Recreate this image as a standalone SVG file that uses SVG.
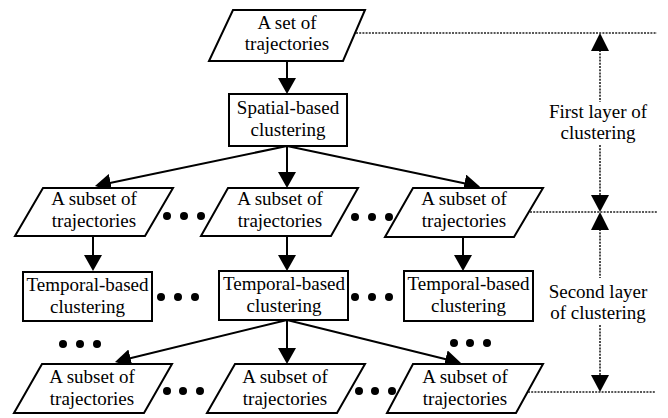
<svg xmlns="http://www.w3.org/2000/svg" width="668" height="418" viewBox="0 0 668 418">
<style>
.shape{fill:#fff;stroke:#000;stroke-width:2;stroke-linejoin:miter}
text{font-family:'Liberation Serif','Times New Roman','DejaVu Serif',serif;font-size:19px;fill:#000;text-anchor:middle}
.conn{stroke:#000;stroke-width:2;fill:none}
.dot{fill:#000}
.dotted{stroke:#222;stroke-width:1.6;stroke-dasharray:2,1.2;fill:none}
.ah{fill:#000}
</style>
<defs>
<marker id="arr" viewBox="0 0 16 18" refX="13" refY="9" markerWidth="16" markerHeight="18" markerUnits="userSpaceOnUse" orient="auto">
<path d="M0,0 L16,9 L0,18 Z" fill="#000"/>
</marker>
</defs>
<rect width="668" height="418" fill="#fff"/>

<g id="connectors">
<line class="conn" x1="287" y1="61" x2="287" y2="91" marker-end="url(#arr)"/>
<line class="conn" x1="287" y1="146" x2="97.9" y2="185.4" marker-end="url(#arr)"/>
<line class="conn" x1="287" y1="146" x2="287" y2="185" marker-end="url(#arr)"/>
<line class="conn" x1="287" y1="146" x2="477.1" y2="186.1" marker-end="url(#arr)"/>
<line class="conn" x1="93" y1="236" x2="93" y2="268" marker-end="url(#arr)"/>
<line class="conn" x1="287" y1="236" x2="287" y2="268" marker-end="url(#arr)"/>
<line class="conn" x1="463" y1="237" x2="463" y2="268" marker-end="url(#arr)"/>
<line class="conn" x1="287" y1="320" x2="117.9" y2="361.3" marker-end="url(#arr)"/>
<line class="conn" x1="287" y1="320" x2="287" y2="361" marker-end="url(#arr)"/>
<line class="conn" x1="287" y1="320" x2="458.1" y2="362.3" marker-end="url(#arr)"/>
</g>

<g id="n-set">
<polygon class="shape" points="233,10 365,10 343,61 209,61"/>
<text font-family="Liberation Serif, serif" x="287" y="29">A set of</text>
<text font-family="Liberation Serif, serif" x="287" y="50">trajectories</text>
</g>

<g id="n-spatial">
<rect class="shape" x="229" y="94" width="118" height="52"/>
<text x="288" y="114">Spatial-based</text>
<text x="288" y="136">clustering</text>
</g>

<g id="n-sub1">
<polygon class="shape" points="43,188 173,188 145,236 15,236"/>
<text x="94" y="205">A subset of</text>
<text x="94" y="227">trajectories</text>
</g>
<g id="n-sub2">
<polygon class="shape" points="228,188 358,188 331,236 201,236"/>
<text x="280" y="205">A subset of</text>
<text x="280" y="227">trajectories</text>
</g>
<g id="n-sub3">
<polygon class="shape" points="413,188 543,188 514,237 385,237"/>
<text x="464" y="205">A subset of</text>
<text x="464" y="227">trajectories</text>
</g>

<g id="n-temp1">
<rect class="shape" x="23" y="272" width="129" height="49"/>
<text x="87.5" y="291">Temporal-based</text>
<text x="87.5" y="313">clustering</text>
</g>
<g id="n-temp2">
<rect class="shape" x="219" y="271" width="129" height="49"/>
<text x="284" y="290">Temporal-based</text>
<text x="284" y="312">clustering</text>
</g>
<g id="n-temp3">
<rect class="shape" x="404" y="271" width="129" height="50"/>
<text x="468.5" y="290">Temporal-based</text>
<text x="468.5" y="312">clustering</text>
</g>

<g id="n-sub4">
<polygon class="shape" points="42,364 172,364 144,413 14,413"/>
<text x="92" y="383">A subset of</text>
<text x="92" y="405">trajectories</text>
</g>
<g id="n-sub5">
<polygon class="shape" points="235,364 365,364 337,413 207,413"/>
<text x="285" y="383">A subset of</text>
<text x="285" y="405">trajectories</text>
</g>
<g id="n-sub6">
<polygon class="shape" points="413,364 543,364 516,413 387,413"/>
<text x="465" y="383">A subset of</text>
<text x="465" y="405">trajectories</text>
</g>

<g id="ellipses">
<circle class="dot" cx="167" cy="216" r="4"/><circle class="dot" cx="184" cy="216" r="4"/><circle class="dot" cx="201" cy="216" r="4"/>
<circle class="dot" cx="355" cy="217" r="4"/><circle class="dot" cx="372" cy="217" r="4"/><circle class="dot" cx="389" cy="217" r="4"/>
<circle class="dot" cx="161" cy="297" r="4"/><circle class="dot" cx="178" cy="297" r="4"/><circle class="dot" cx="195" cy="297" r="4"/>
<circle class="dot" cx="355" cy="297" r="4"/><circle class="dot" cx="372" cy="297" r="4"/><circle class="dot" cx="389" cy="297" r="4"/>
<circle class="dot" cx="63" cy="344" r="4"/><circle class="dot" cx="80" cy="344" r="4"/><circle class="dot" cx="97" cy="344" r="4"/>
<circle class="dot" cx="454" cy="343" r="4"/><circle class="dot" cx="470" cy="343" r="4"/><circle class="dot" cx="487" cy="343" r="4"/>
<circle class="dot" cx="167" cy="391" r="4"/><circle class="dot" cx="183" cy="391" r="4"/><circle class="dot" cx="200" cy="391" r="4"/>
<circle class="dot" cx="359" cy="391" r="4"/><circle class="dot" cx="375" cy="391" r="4"/><circle class="dot" cx="392" cy="391" r="4"/>
</g>

<g id="layers">
<line class="dotted" x1="356" y1="33" x2="657" y2="33"/>
<line class="dotted" x1="530" y1="212" x2="657" y2="212"/>
<line class="dotted" x1="528" y1="392" x2="655" y2="392"/>
<line class="dotted" x1="600" y1="50" x2="600" y2="102"/>
<line class="dotted" x1="600" y1="145" x2="600" y2="195"/>
<line class="dotted" x1="600" y1="229" x2="600" y2="278"/>
<line class="dotted" x1="600" y1="325" x2="600" y2="375"/>
<polygon class="ah" points="600,33 609,51 591,51"/>
<polygon class="ah" points="591,195 609,195 600,212"/>
<polygon class="ah" points="600,212 609,230 591,230"/>
<polygon class="ah" points="591,375 609,375 600,392"/>
<text x="598" y="118">First layer of</text>
<text x="598" y="139">clustering</text>
<text x="598" y="298">Second layer</text>
<text x="598" y="319">of clustering</text>
</g>
</svg>
